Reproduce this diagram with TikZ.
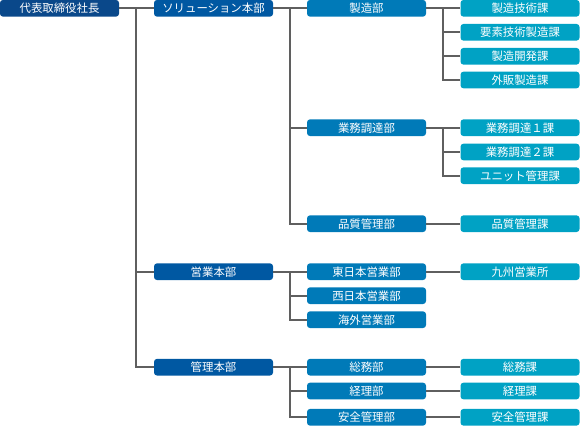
\documentclass[tikz,border=0pt]{standalone}
\usepackage{fontspec}
\setmainfont{Noto Sans CJK JP}
\definecolor{cA}{RGB}{10,72,138}
\definecolor{cB}{RGB}{0,88,162}
\definecolor{cC}{RGB}{0,122,184}
\definecolor{cD}{RGB}{0,162,196}
\definecolor{ln}{RGB}{95,95,95}
\tikzset{
  box/.style={rounded corners=3pt, minimum width=119pt, minimum height=16.7pt, inner sep=0pt,
    text=white, font=\fontsize{11.4}{12}\selectfont, anchor=center},
  lvA/.style={box, fill=cA},
  lvB/.style={box, fill=cB},
  lvC/.style={box, fill=cC},
  lvD/.style={box, fill=cD},
  conn/.style={draw=ln, line width=1.8pt},
}
\begin{document}
\begin{tikzpicture}[x=1pt,y=-1pt]
\useasboundingbox (0,0) rectangle (581,433);
% connector anchors drawn first via coordinates after nodes
% column 1
\node[lvA] (ceo) at (59.5,8.3) {代表取締役社長};
% column 2
\node[lvB] (sol) at (213.5,8.3) {ソリューション本部};
\node[lvB] (eig) at (213.5,271.7) {営業本部};
\node[lvB] (kan) at (213.5,367.2) {管理本部};
% column 3
\node[lvC] (sei) at (366.5,8.3) {製造部};
\node[lvC] (gyo) at (366.5,127.7) {業務調達部};
\node[lvC] (hin) at (366.5,223.7) {品質管理部};
\node[lvC] (hig) at (366.5,271.7) {東日本営業部};
\node[lvC] (nis) at (366.5,295.7) {西日本営業部};
\node[lvC] (kai) at (366.5,319.7) {海外営業部};
\node[lvC] (som) at (366.5,367.2) {総務部};
\node[lvC] (kei) at (366.5,391.0) {経理部};
\node[lvC] (anz) at (366.5,417.3) {安全管理部};
% column 4
\node[lvD] (d1) at (520,8.3) {製造技術課};
\node[lvD] (d2) at (520,32.3) {要素技術製造課};
\node[lvD] (d3) at (520,56.3) {製造開発課};
\node[lvD] (d4) at (520,80.0) {外販製造課};
\node[lvD] (g1) at (520,127.7) {業務調達１課};
\node[lvD] (g2) at (520,152.0) {業務調達２課};
\node[lvD] (g3) at (520,175.7) {ユニット管理課};
\node[lvD] (h1) at (520,223.7) {品質管理課};
\node[lvD] (q1) at (520,271.7) {九州営業所};
\node[lvD] (s1) at (520,367.2) {総務課};
\node[lvD] (k1) at (520,391.0) {経理課};
\node[lvD] (a1) at (520,417.3) {安全管理課};
% connectors
\draw[conn] (ceo.east) -- (sol.west);
\draw[conn] (ceo.east) -- ++(17,0) |- (eig.west);
\draw[conn] (ceo.east) -- ++(17,0) |- (kan.west);
\draw[conn] (sol.east) -- (sei.west);
\draw[conn] (sol.east) -- ++(17,0) |- (gyo.west);
\draw[conn] (sol.east) -- ++(17,0) |- (hin.west);
\draw[conn] (sei.east) -- (d1.west);
\draw[conn] (sei.east) -- ++(17,0) |- (d2.west);
\draw[conn] (sei.east) -- ++(17,0) |- (d3.west);
\draw[conn] (sei.east) -- ++(17,0) |- (d4.west);
\draw[conn] (gyo.east) -- (g1.west);
\draw[conn] (gyo.east) -- ++(17,0) |- (g2.west);
\draw[conn] (gyo.east) -- ++(17,0) |- (g3.west);
\draw[conn] (hin.east) -- (h1.west);
\draw[conn] (eig.east) -- (hig.west);
\draw[conn] (eig.east) -- ++(17,0) |- (nis.west);
\draw[conn] (eig.east) -- ++(17,0) |- (kai.west);
\draw[conn] (hig.east) -- (q1.west);
\draw[conn] (kan.east) -- (som.west);
\draw[conn] (kan.east) -- ++(17,0) |- (kei.west);
\draw[conn] (kan.east) -- ++(17,0) |- (anz.west);
\draw[conn] (som.east) -- (s1.west);
\draw[conn] (kei.east) -- (k1.west);
\draw[conn] (anz.east) -- (a1.west);
\end{tikzpicture}
\end{document}
